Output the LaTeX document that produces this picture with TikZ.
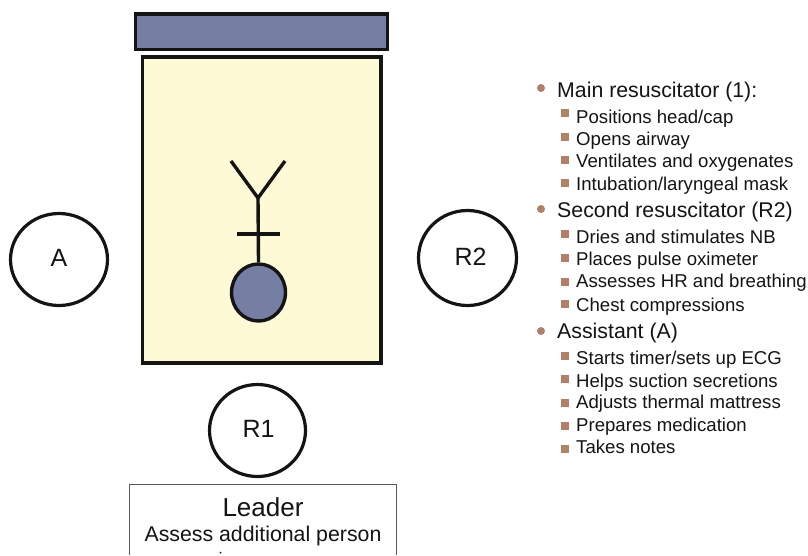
\documentclass[tikz,border=0pt]{standalone}
\usepackage{fontspec}
\usetikzlibrary{shapes.geometric}
\setmainfont{Liberation Sans}
\definecolor{slateb}{RGB}{117,126,163}
\definecolor{pale}{RGB}{254,250,214}
\definecolor{bulb}{RGB}{176,128,104}
\definecolor{ink}{RGB}{20,20,20}
\tikzset{
 x=1pt,y=-1pt,
 thick box/.style={draw=ink,line width=3.5pt},
 person/.style={ellipse,draw=ink,fill=white,line width=3.2pt,inner sep=0pt,font=\fontsize{25}{30}\selectfont,text=ink},
 lone/.style={anchor=base west,inner sep=0pt,font=\fontsize{21.3}{25}\selectfont,text=ink},
 ltwo/.style={anchor=base west,inner sep=0pt,font=\fontsize{18.6}{22}\selectfont,text=ink},
 dotb/.style={circle,fill=bulb,inner sep=0pt,minimum size=8pt},
 sqb/.style={rectangle,fill=bulb,inner sep=0pt,minimum size=7.5pt},
 stick/.style={draw=ink,line width=3.4pt},
}
\newcommand{\itemone}[3]{\node[dotb] at (541,#1) {}; \node[lone] at (557,#2) {#3};}
\newcommand{\itemtwo}[3]{\node[sqb] at (565,#1) {}; \node[ltwo] at (576,#2) {#3};}
\newcommand{\nudged}[3]{\hspace*{#1}\raisebox{#2}[\height][\depth]{#3}\hspace*{-#1}}
\begin{document}
\begin{tikzpicture}
\useasboundingbox (0,0) rectangle (808,555);
\fill[white] (0,0) rectangle (808,555);
\node[thick box,fill=slateb,minimum width=252pt,minimum height=35.5pt,inner sep=0pt] (head) at (261.25,31.5) {};
\node[thick box,fill=pale,minimum width=238.5pt,minimum height=306pt,inner sep=0pt] (bed) at (261.7,209.75) {};
% infant
\coordinate (fork) at (258,198);
\coordinate (armL) at (231,161);
\coordinate (armR) at (285,161);
\coordinate (barL) at (237,234);
\coordinate (barR) at (280,234);
\node[ellipse,draw=ink,fill=slateb,line width=3.4pt,minimum width=54pt,minimum height=57pt,inner sep=0pt] (babyhead) at (258.5,292.5) {};
\draw[stick] (armL) -- (fork) -- (armR);
\draw[stick] (fork) -- (babyhead.north);
\draw[stick] (barL) -- (barR);
\node[person,minimum width=97pt,minimum height=92pt] (A) at (59,259.5) {\nudged{0pt}{2pt}{A}};
\node[person,minimum width=98pt,minimum height=95pt] (R2) at (467.5,258) {\nudged{3pt}{1pt}{R2}};
\node[person,minimum width=96pt,minimum height=92pt] (R1) at (257.5,430.5) {\nudged{1pt}{2pt}{R1}};
% leader
\coordinate (lbl) at (129,555);
\coordinate (ltl) at (129,484);
\coordinate (ltr) at (396,484);
\coordinate (lbr) at (396,555);
\draw[draw=ink!70,line width=1pt] (lbl) -- (ltl) -- (ltr) -- (lbr);
\node[inner sep=0pt,anchor=base,font=\fontsize{26}{30}\selectfont,text=ink] (leader) at (263,516) {Leader};
\node[inner sep=0pt,anchor=base,font=\fontsize{21.3}{25}\selectfont,text=ink] (assess) at (263,541.7) {Assess additional person};
\node[circle,fill=ink,inner sep=0pt,minimum size=2pt] (cut) at (220.5,552.5) {};
% list
\itemone{88}{97}{Main resuscitator (1):}
\itemtwo{113}{123}{Positions head/cap}
\itemtwo{137}{145}{Opens airway}
\itemtwo{160}{167}{Ventilates and oxygenates}
\itemtwo{183}{190}{Intubation/laryngeal mask}
\itemone{209}{217}{Second resuscitator (R2)}
\itemtwo{234}{243}{Dries and stimulates NB}
\itemtwo{258}{265}{Places pulse oximeter}
\itemtwo{282}{287}{Assesses HR and breathing}
\itemtwo{304}{311}{Chest compressions}
\itemone{331}{338}{Assistant (A)}
\itemtwo{356}{364}{Starts timer/sets up ECG}
\itemtwo{379}{387}{Helps suction secretions}
\itemtwo{403}{408}{Adjusts thermal mattress}
\itemtwo{426}{431}{Prepares medication}
\itemtwo{449}{453}{Takes notes}
\end{tikzpicture}
\end{document}
